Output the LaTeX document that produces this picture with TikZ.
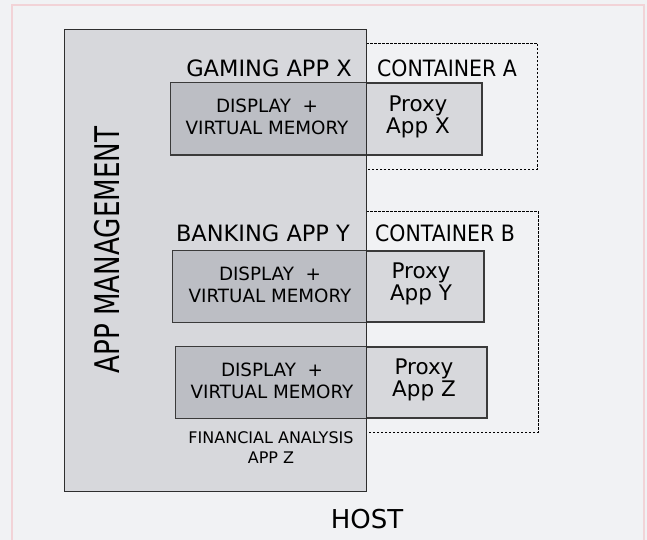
\documentclass[tikz,border=0pt]{standalone}
\usepackage{fontspec}
\setmainfont{DejaVu Sans}
\usepackage{graphicx}
\definecolor{bgc}{HTML}{F1F2F4}
\definecolor{framec}{HTML}{F2D3D7}
\definecolor{mgc}{HTML}{D7D8DC}
\definecolor{ovc}{HTML}{BCBEC4}
\definecolor{edgec}{HTML}{3A3A3A}
\tikzset{
  box/.style={draw=edgec, line width=1.1pt, fill=mgc, minimum width=311pt, minimum height=71pt, inner sep=0pt},
  cont/.style={draw=black, line width=0.9pt, dash pattern=on 2.5pt off 1.5pt},
  lbl/.style={inner sep=0pt, align=center, font=\fontsize{22.5}{24}\selectfont},
  inl/.style={inner sep=0pt, align=center, font=\fontsize{18.3}{22}\selectfont},
  prx/.style={inner sep=0pt, align=center, font=\fontsize{21.5}{22}\selectfont},
}
\begin{document}
\begin{tikzpicture}[x=1pt,y=-1pt]
\useasboundingbox (0,0) rectangle (647,540);
\fill[bgc] (0,0) rectangle (647,540);
\draw[framec, line width=2pt] (12,560) -- (12,5) -- (644,5) -- (644,560);
% containers
\coordinate (a1) at (366,43); \coordinate (a2) at (537,169);
\coordinate (b1) at (366,211); \coordinate (b2) at (538,432);
\draw[cont] (a1) -| (a2) -- (a2 -| a1);
\draw[cont] (b1) -| (b2) -- (b2 -| b1);
% management
\node[fill=mgc, minimum width=301pt, minimum height=461pt, inner sep=0pt] (mgmt) at (215.5,260.5) {};
% boxes
\node[box] (bx) at (326.5,119) {};
\node[box] (by) at (328.5,286.5) {};
\node[box] (bz) at (331.5,382.5) {};
\foreach \b in {bx,by,bz}{
  \fill[ovc] (\b.north west) rectangle (\b.south west -| mgmt.east);
  \draw[edgec, line width=1.1pt] (\b.north west) rectangle (\b.south east);
}
\draw[edgec!80!black, line width=1.2pt] (mgmt.north west) rectangle (mgmt.south east);
% texts
\node[lbl] (tg) at (269,68) {GAMING APP X};
\node[lbl] (tca) at (447,68) {\scalebox{0.91}[1]{CONTAINER A}};
\node[lbl] (tb) at (263,233) {BANKING APP Y};
\node[lbl] (tcb) at (445,233) {\scalebox{0.91}[1]{CONTAINER B}};
\node[inl] (dx) at (267,117) {DISPLAY\ \ +\\VIRTUAL MEMORY};
\node[inl] (dy) at (270,285) {DISPLAY\ \ +\\VIRTUAL MEMORY};
\node[inl] (dz) at (272,381) {DISPLAY\ \ +\\VIRTUAL MEMORY};
\node[prx] (px) at (418,117) {Proxy\\App X};
\node[prx] (py) at (421,284) {Proxy\\App Y};
\node[prx] (pz) at (424,380) {Proxy\\App Z};
\node[lbl, font=\fontsize{16}{20}\selectfont] (fa) at (271,448) {FINANCIAL ANALYSIS\\APP Z};
\node[lbl, font=\fontsize{26}{30}\selectfont] (host) at (367,519) {HOST};
\node[inner sep=0pt, rotate=90] (am) at (107,250) {\scalebox{0.77}[1]{\fontsize{34}{40}\selectfont APP MANAGEMENT}};
\end{tikzpicture}
\end{document}
